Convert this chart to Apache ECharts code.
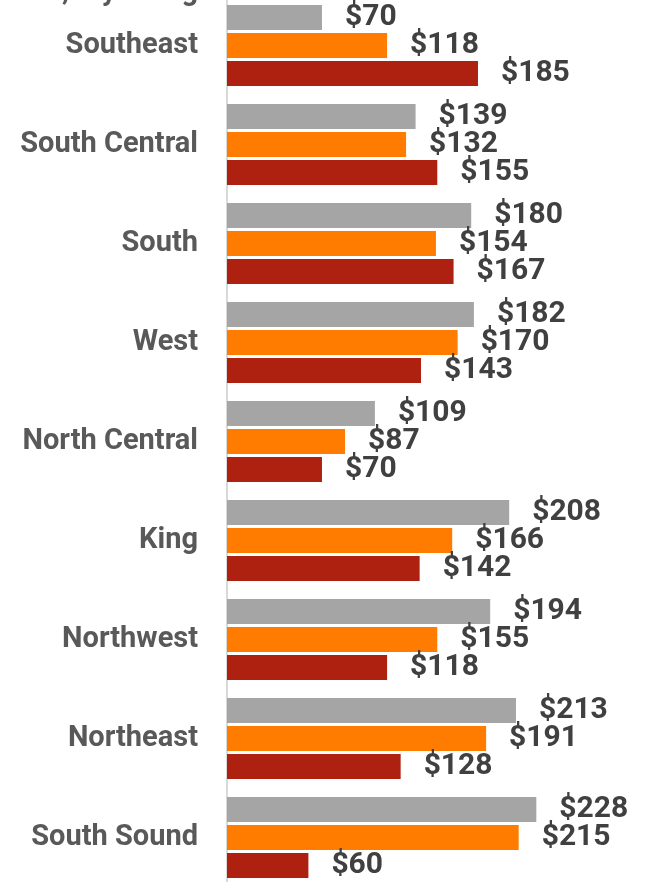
<!DOCTYPE html>
<html>
<head>
<meta charset="utf-8">
<script src="https://cdn.jsdelivr.net/npm/echarts@6/dist/echarts.min.js"></script>
<style>
  html, body { margin: 0; padding: 0; background: #fff; overflow: hidden; }
  #chart { width: 645px; height: 930px; margin-top: -40px; }
</style>
</head>
<body>
<div id="chart"></div>
<script>
// regions, top to bottom
var regions = ['Southeast', 'South Central', 'South', 'West', 'North Central', 'King', 'Northwest', 'Northeast', 'South Sound'];
// three bars per region (gray, orange, red)
var grayValues = [70, 139, 180, 182, 109, 208, 194, 213, 228];
var orangeValues = [118, 132, 154, 170, 87, 166, 155, 191, 215];
var redValues = [185, 155, 167, 143, 70, 142, 118, 128, 60];
// label of the group cut off above the picture
var cutLabel = 'Eastern, Wyoming';

var mychart = echarts.init(document.getElementById('chart'));

function makeSeries(name, values, color) {
    return {
        name: name,
        type: 'bar',
        data: values,
        barWidth: 25,
        barGap: '12%',
        itemStyle: { color: color },
        label: {
            show: true,
            position: 'right',
            distance: 23,
            formatter: function (p) { return '$' + p.value; },
            fontFamily: 'Roboto',
            fontWeight: 700,
            fontSize: 30,
            color: '#404040'
        }
    };
}

var option = {
    animation: false,
    // page is shifted up 40px, so grid top 36 = -4 on the page
    grid: { left: 227, width: 407, top: 36, height: 891, containLabel: false },
    xAxis: {
        type: 'value',
        min: 0,
        max: 300,
        show: false
    },
    yAxis: {
        type: 'category',
        data: regions,
        inverse: true,
        axisLine: { show: true, lineStyle: { color: '#d9d9d9', width: 2 } },
        axisTick: { show: false },
        axisLabel: {
            margin: 29,
            fontFamily: 'Roboto',
            fontWeight: 700,
            fontSize: 29,
            color: '#595959'
        }
    },
    graphic: [{
        type: 'text',
        right: 447,
        top: 18,
        style: {
            text: cutLabel,
            font: '700 29px Roboto',
            fill: '#595959'
        }
    }],
    series: [
        makeSeries('gray', grayValues, '#a5a5a5'),
        makeSeries('orange', orangeValues, '#ff7c00'),
        makeSeries('red', redValues, '#ae2110')
    ]
};
mychart.setOption(option);
</script>
</body>
</html>
